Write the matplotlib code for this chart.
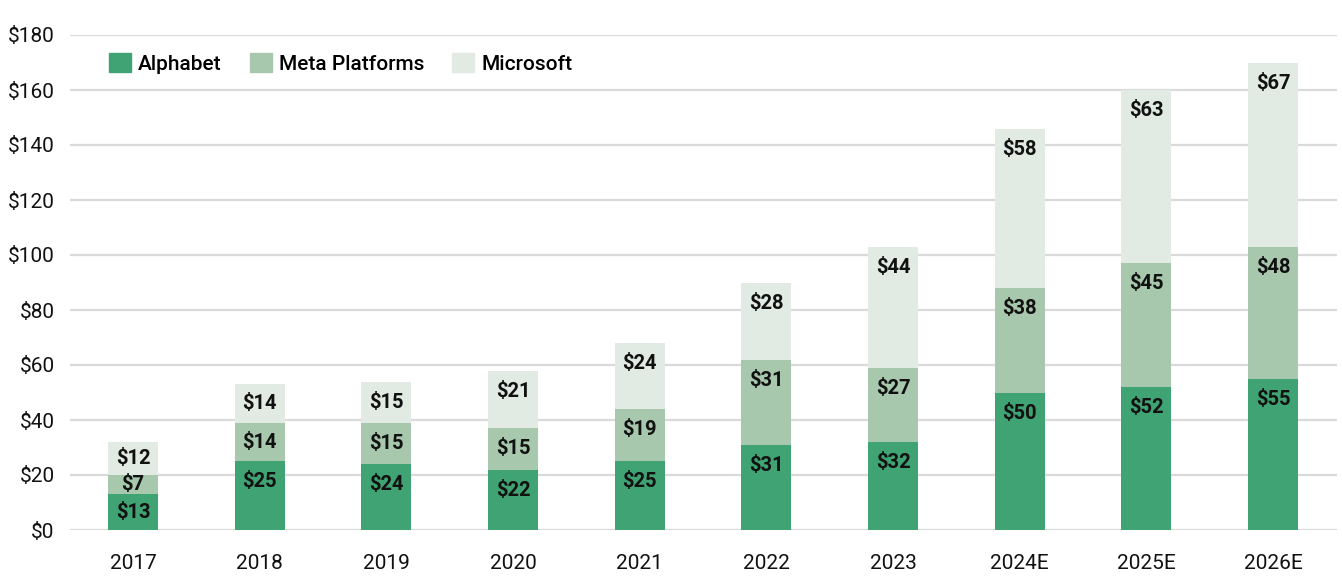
import matplotlib
matplotlib.use("Agg")
from matplotlib import pyplot as plt
from matplotlib.patches import Patch
import numpy as np

plt.rcParams['font.family'] = ['Roboto', 'DejaVu Sans']

years = ['2017', '2018', '2019', '2020', '2021', '2022', '2023', '2024E', '2025E', '2026E']
alphabet = [13, 25, 24, 22, 25, 31, 32, 50, 52, 55]
meta = [7, 14, 15, 15, 19, 31, 27, 38, 45, 48]
microsoft = [12, 14, 15, 21, 24, 28, 44, 58, 63, 67]

series = [('Alphabet', alphabet, '#40a373'),
          ('Meta Platforms', meta, '#a7c8ad'),
          ('Microsoft', microsoft, '#e1ebe3')]

fig = plt.figure(figsize=(13.42, 5.83), dpi=100)
ax = fig.add_axes([70/1342, 1 - 530/583, 1267/1342, 495/583])

x = np.arange(len(years))
bottom = np.zeros(len(years))
for name, vals, col in series:
    vals = np.array(vals, dtype=float)
    ax.bar(x, vals, 0.395, bottom=bottom, color=col, zorder=3, label=name)
    for xi, b, v in zip(x, bottom, vals):
        off = min(7.5, v / 2)
        ax.text(xi, b + v - off, '${:d}'.format(int(v)), ha='center', va='center',
                fontsize=14.5, fontweight='bold', color='#111111', zorder=4)
    bottom += vals

ax.set_xlim(-0.497, 9.505)
ax.set_ylim(0, 180)
ax.set_yticks(range(0, 181, 20))
ax.set_yticklabels(['${}'.format(v) for v in range(0, 181, 20)])
ax.set_xticks(x)
ax.set_xticklabels(years)
ax.tick_params(axis='both', length=0, labelsize=15, colors='#111111')
ax.tick_params(axis='x', pad=17)
ax.tick_params(axis='y', pad=11)
ax.grid(axis='y', color='#dadada', lw=1.6, zorder=0)
for s in ax.spines.values():
    s.set_visible(False)

handles = [Patch(color=c, label=n) for n, _, c in series]
leg = ax.legend(handles=handles, loc='center left', bbox_to_anchor=(0.024, 0.943),
                ncol=3, frameon=False, handlelength=1.05, handleheight=1.05,
                handletextpad=0.35, columnspacing=1.35, borderaxespad=0,
                prop={'size': 15, 'weight': 'medium'})

plt.savefig('out.png', dpi=100)
